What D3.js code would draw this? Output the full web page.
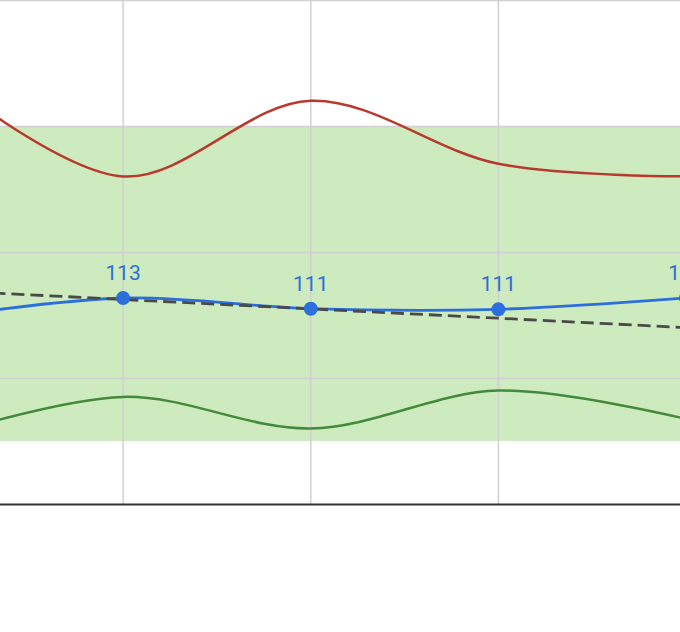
<!DOCTYPE html>
<html><head><meta charset="utf-8">
<script src="https://cdn.jsdelivr.net/npm/d3@7"></script>
<style>html,body{margin:0;padding:0;background:#fff;overflow:hidden}</style>
</head><body>
<svg id="c" width="680" height="632"></svg>
<script>
const categories = ["P0","P1","P2","P3","P4"];
const upperValues = [148.5, 132, 144, 134, 132];
const mainValues = [109.5, 112.7, 111, 110.9, 112.7];
const lowerValues = [90.5, 97, 92, 98, 93.5];
const trendValues = [113.95, 112.46, 110.97, 109.49, 108.0];
const bandLow = 90, bandHigh = 140;
const yTicks = [80, 100, 120, 140, 160];

const svg = d3.select("#c");
const x = d3.scalePoint().domain(categories).range([-64.5, 686]);
const y = d3.scaleLinear().domain([80, 160]).range([504, 0]);

// band
svg.append("rect").attr("x", 0).attr("width", 680)
  .attr("y", y(bandHigh)).attr("height", y(bandLow) - y(bandHigh))
  .attr("fill", "#cdebbe");

// grid
svg.append("g").selectAll("line").data(yTicks.filter(t => t > 80)).join("line")
  .attr("x1", 0).attr("x2", 680).attr("y1", d => y(d) + 0.5).attr("y2", d => y(d) + 0.5)
  .attr("stroke", "#d0d0d0").attr("stroke-width", 1.5);
svg.append("g").selectAll("line").data(categories).join("line")
  .attr("y1", 0).attr("y2", 504).attr("x1", d => x(d)).attr("x2", d => x(d))
  .attr("stroke", "#d0d0d0").attr("stroke-width", 1.5);

// baseline axis
svg.append("line").attr("x1", 0).attr("x2", 680).attr("y1", y(80)+0.5).attr("y2", y(80)+0.5)
  .attr("stroke", "#333").attr("stroke-width", 2);

const line = vals => d3.line().x((d, i) => x(categories[i])).y(d => y(d)).curve(d3.curveCatmullRom.alpha(0.5))(vals);

svg.append("path").attr("d", line(upperValues)).attr("fill", "none").attr("stroke", "#b83a2e").attr("stroke-width", 2.5);
svg.append("path").attr("d", line(lowerValues)).attr("fill", "none").attr("stroke", "#438a3a").attr("stroke-width", 2.5);
svg.append("path").attr("d", line(mainValues)).attr("fill", "none").attr("stroke", "#2a6fdc").attr("stroke-width", 2.8);
svg.append("path").attr("d", d3.line().x((d, i) => x(categories[i])).y(d => y(d))(trendValues))
  .attr("fill", "none").attr("stroke", "#4a4a4a").attr("stroke-width", 2.8).attr("stroke-dasharray", "13,6");

svg.append("g").selectAll("circle").data(mainValues).join("circle")
  .attr("cx", (d, i) => x(categories[i])).attr("cy", d => y(d)).attr("r", 7).attr("fill", "#2a6fdc");

svg.append("g").selectAll("text").data(mainValues).join("text")
  .attr("x", (d, i) => x(categories[i])).attr("y", d => y(d) - 18)
  .attr("text-anchor", "middle").attr("font-family", "Roboto, sans-serif").attr("font-size", 21)
  .attr("fill", "#2a6fdc").text(d => Math.round(d));
</script>
</body></html>
